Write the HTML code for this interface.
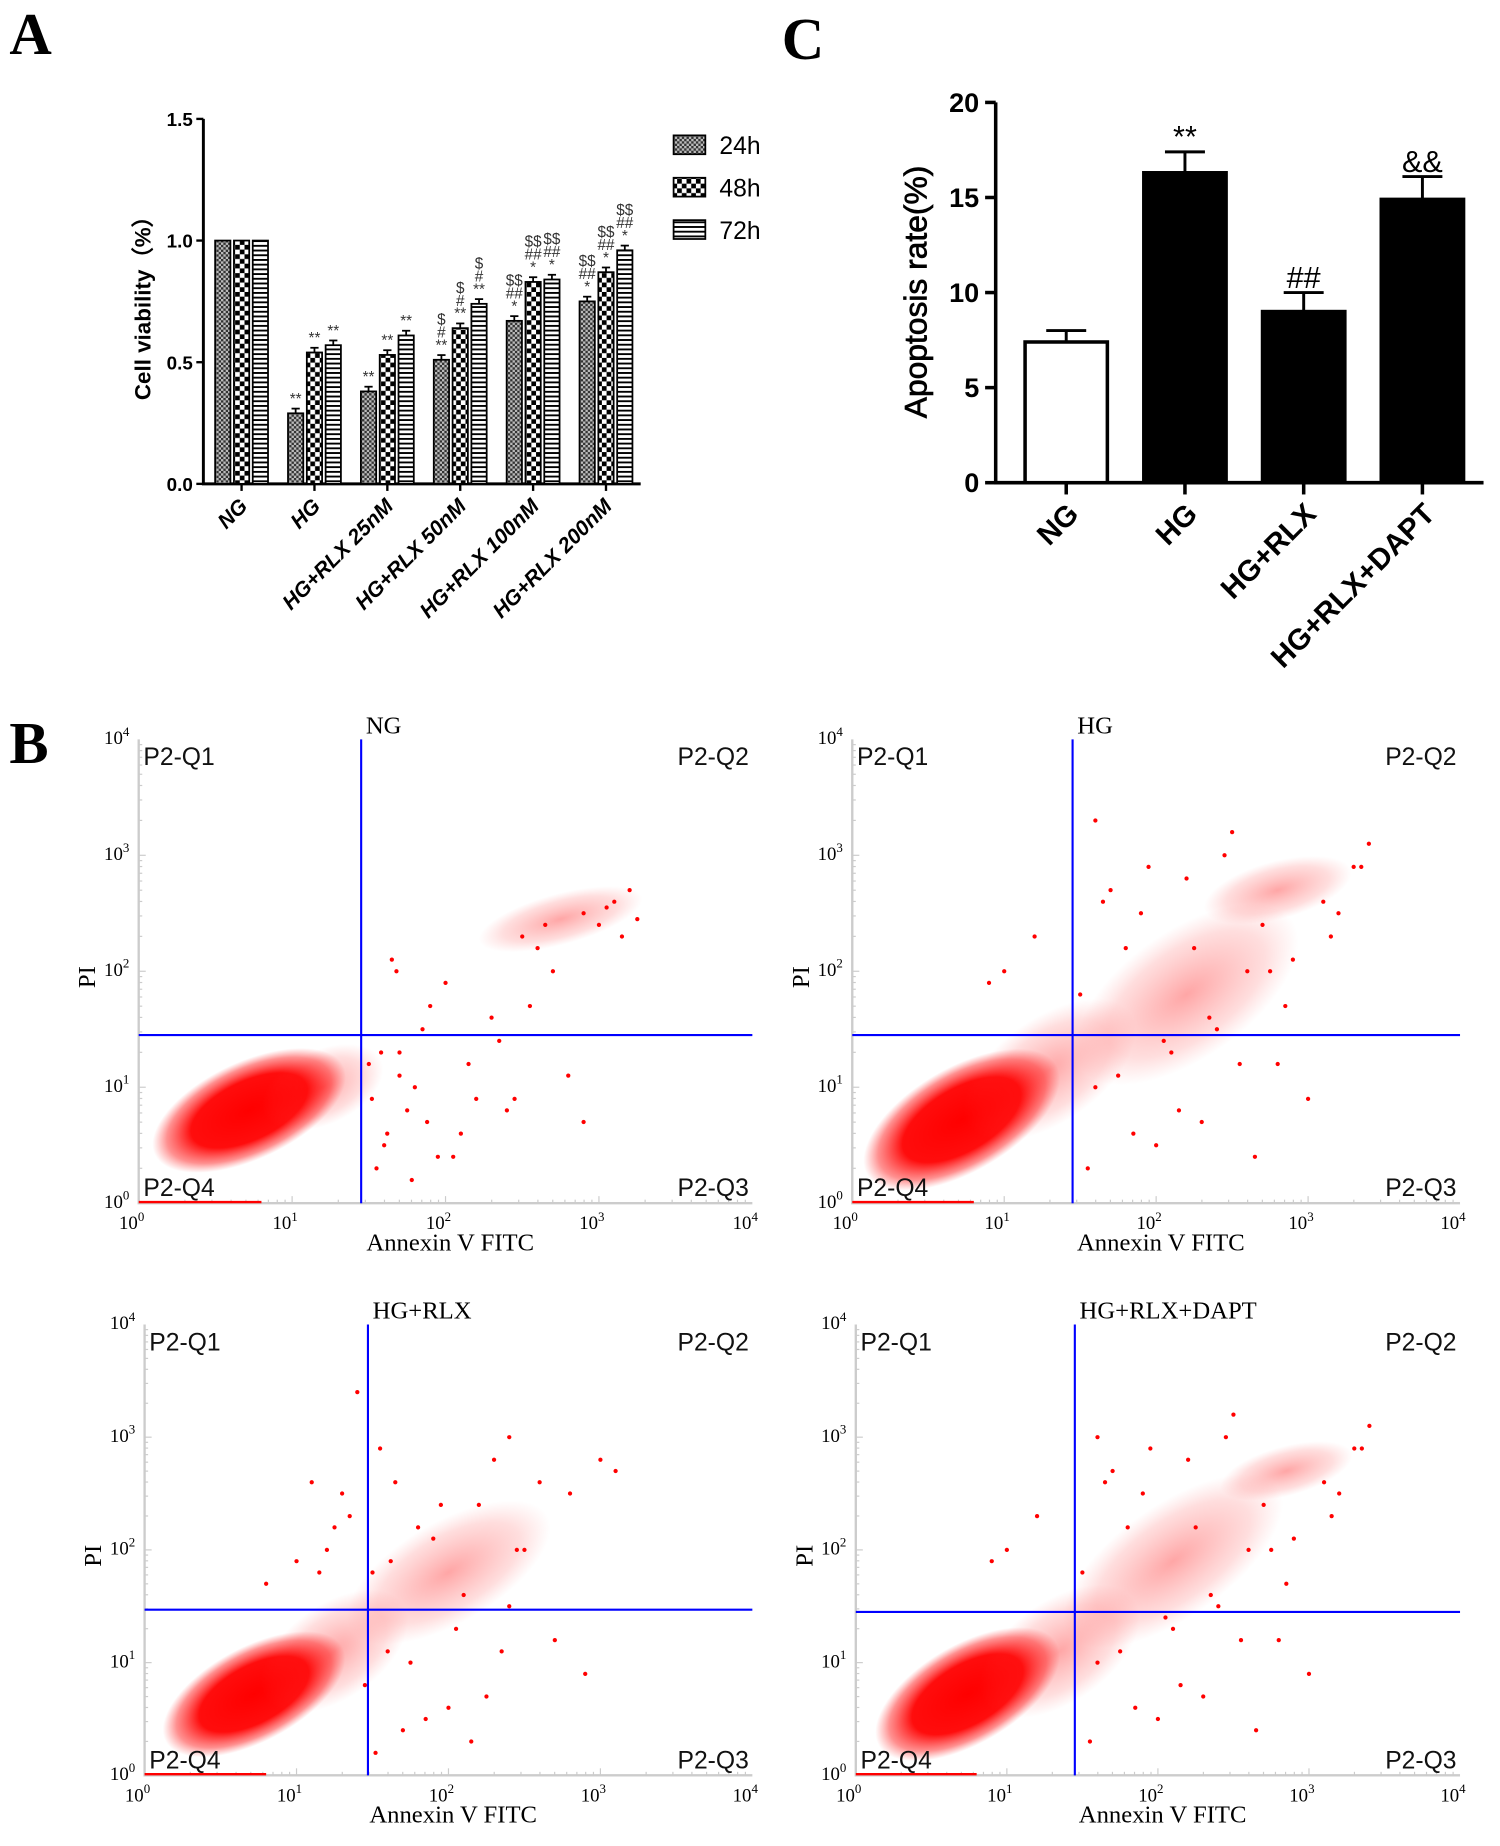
<!DOCTYPE html>
<html><head><meta charset="utf-8"><style>
html,body{margin:0;padding:0;background:#fff;}
svg{display:block;}
</style></head><body>
<svg id="fig" width="1500" height="1846" viewBox="0 0 1276 1568" preserveAspectRatio="none" xmlns="http://www.w3.org/2000/svg">
<defs>
<pattern id="p24" width="4" height="4" patternUnits="userSpaceOnUse"><rect width="4" height="4" fill="#bbb"/><rect width="2" height="2" fill="#333"/><rect x="2" y="2" width="2" height="2" fill="#333"/></pattern>
<pattern id="p48" width="8" height="8" patternUnits="userSpaceOnUse"><rect width="8" height="8" fill="#fff"/><rect width="4" height="4" fill="#000"/><rect x="4" y="4" width="4" height="4" fill="#000"/></pattern>
<pattern id="p72" width="4" height="4" patternUnits="userSpaceOnUse"><rect width="4" height="4" fill="#fff"/><rect width="4" height="1.6" fill="#000"/></pattern>
<radialGradient id="cg"><stop offset="0" stop-color="#f00" stop-opacity="1"/><stop offset="0.6" stop-color="#f00" stop-opacity="0.95"/><stop offset="0.85" stop-color="#f22" stop-opacity="0.5"/><stop offset="1" stop-color="#f44" stop-opacity="0"/></radialGradient>
<radialGradient id="cg2"><stop offset="0" stop-color="#f00" stop-opacity="0.35"/><stop offset="0.7" stop-color="#f22" stop-opacity="0.15"/><stop offset="1" stop-color="#f44" stop-opacity="0"/></radialGradient>
</defs>
<g id="A"></g>
<g id="C"></g>
<g id="B"></g>
</svg>
<script>
// ---- Panel A data ----
const catsA = ["NG","HG","HG+RLX 25nM","HG+RLX 50nM","HG+RLX 100nM","HG+RLX 200nM"];
const v24 = [1.0,0.29,0.38,0.51,0.67,0.75];
const v48 = [1.0,0.54,0.53,0.64,0.83,0.87];
const v72 = [1.0,0.57,0.61,0.74,0.84,0.96];
const ticksA = [0,0.5,1.0,1.5];
const sigA = [
 ["","",""],["**","**","**"],["**","**","**"],["$\n#\n**","$\n#\n**","$\n#\n**"],
 ["$$\n##\n*","$$\n##\n*","$$\n##\n*"],["$$\n##\n*","$$\n##\n*","$$\n##\n*"]];
// ---- Panel C data ----
const catsC = ["NG","HG","HG+RLX","HG+RLX+DAPT"];
const valsC = [7.4,16.3,9.0,14.9];
const errC = [0.6,1.1,1.0,1.2];
const sigC = ["","**","##","&&"];
const ticksC = [0,5,10,15,20];
// ---- Panel B data (log10 units) ----
const titlesB = ["NG","HG","HG+RLX","HG+RLX+DAPT"];
const gateX = [1.45,1.45,1.47,1.45];
const gateY = [1.45,1.45,1.47,1.45];
// clusters: [cx, cy, rx, ry, rot, kind]
const clustersB = [
 [[0.72,0.8,0.68,0.42,-25,1],[1.2,1.0,0.42,0.32,-25,2],[2.75,2.45,0.55,0.22,-15,2]],
 [[0.72,0.72,0.72,0.45,-30,1],[1.3,1.15,0.65,0.45,-35,2],[2.8,2.7,0.5,0.25,-15,2],[2.2,1.8,0.85,0.55,-35,2]],
 [[0.72,0.72,0.66,0.42,-28,1],[1.25,1.1,0.55,0.42,-35,2],[2.0,1.8,0.75,0.45,-30,2]],
 [[0.74,0.72,0.68,0.44,-30,1],[1.35,1.1,0.6,0.45,-35,2],[2.85,2.7,0.45,0.22,-15,2],[2.1,1.9,0.85,0.5,-35,2]]];
const ptsX = [
 [1.5,1.8,2.1,2.4,2.6,2.9,3.1,3.2,2.3,1.7,2.0,2.5,1.6,2.2,2.8,3.0,1.9,2.7,1.55,2.05,2.35,1.65,2.9,3.15,1.52,1.58,1.62,1.7,1.75,1.85,1.95,2.15,2.45,2.55,2.65,3.05,3.25,1.68,1.78,1.88],
 [1.6,2.0,2.4,2.8,3.1,3.3,1.8,2.2,2.6,3.0,1.5,1.9,2.3,2.7,3.4,1.7,2.1,2.5,2.9,3.2,1.2,1.0,0.9,1.6,1.55,1.65,1.75,1.85,1.95,2.05,2.15,2.25,2.35,2.45,2.55,2.65,2.75,2.85,3.15,3.35],
 [1.6,2.0,2.4,2.8,3.0,1.8,2.2,2.6,1.5,1.9,2.3,2.7,1.2,1.0,0.8,1.7,2.1,2.5,2.9,1.4,1.1,3.1,2.4,1.55,1.35,1.45,1.65,1.75,1.85,1.95,2.05,2.15,1.3,1.25,1.15,2.25,2.35,2.45,1.52,1.62],
 [1.6,2.0,2.4,2.8,3.1,3.3,1.8,2.2,2.6,3.0,1.5,1.9,2.3,2.7,3.4,1.7,2.1,2.5,2.9,3.2,1.2,1.0,0.9,1.6,1.55,1.65,1.75,1.85,1.95,2.05,2.15,2.25,2.35,2.45,2.55,2.65,2.75,2.85,3.15,3.35]];
const ptsY = [
 [1.2,1.0,0.6,0.8,2.2,2.5,2.6,2.7,1.6,1.3,1.9,2.3,0.5,0.9,1.1,2.4,1.7,2.0,0.3,0.4,1.4,2.1,0.7,2.3,0.9,1.3,0.6,1.1,0.8,1.5,0.4,1.2,0.9,1.7,2.4,2.55,2.45,2.0,0.2,0.7],
 [1.0,0.5,1.5,1.2,2.6,2.9,2.2,2.8,2.0,0.9,1.8,2.5,0.7,2.4,3.1,2.7,1.3,3.2,2.1,2.5,2.3,2.0,1.9,3.3,0.3,2.6,1.1,0.6,2.9,1.4,0.8,2.2,1.6,3.0,1.2,0.4,2.0,1.7,2.3,2.9],
 [1.1,0.6,1.5,2.5,2.8,2.2,2.4,2.6,1.8,2.1,2.8,1.2,2.0,1.9,1.7,0.4,1.6,2.0,0.9,3.4,2.6,2.7,3.0,2.9,2.3,0.8,2.6,1.0,0.5,2.4,1.3,0.3,2.5,2.2,1.8,0.7,1.1,2.0,0.2,1.9],
 [1.0,0.5,1.5,1.2,2.6,2.9,2.2,2.8,2.0,0.9,1.8,2.5,0.7,2.4,3.1,2.7,1.3,3.2,2.1,2.5,2.3,2.0,1.9,3.0,0.3,2.6,1.1,0.6,2.9,1.4,0.8,2.2,1.6,3.0,1.2,0.4,2.0,1.7,2.3,2.9]];

const NS="http://www.w3.org/2000/svg";
function mk(parent,tag,attrs,text){const e=document.createElementNS(NS,tag);for(const k in attrs)e.setAttribute(k,attrs[k]);if(text!==undefined)e.textContent=text;parent.appendChild(e);return e;}

// ================= Panel A =================
(function(){
 const g=document.getElementById('A');
 const L=mk(g,'text',{x:8,y:46,'font-family':'Liberation Serif, serif','font-weight':'bold','font-size':50});L.textContent='A';
 
 
 const x0=173,y0=411,yTop=101,vmax=1.5;
 const yS=v=>y0-(v/vmax)*(y0-yTop);
 const groupStart=i=>183+i*62, bw=13, step=16;
 const ax=mk(g,'path',{d:`M${x0} ${yTop} V${y0} H545`,stroke:'#000','stroke-width':2.5,fill:'none'});
 
 
 ticksA.forEach(t=>{
  mk(g,'line',{x1:x0-6,x2:x0,y1:yS(t),y2:yS(t),stroke:'#000','stroke-width':2});
  const tl=mk(g,'text',{x:x0-9,y:yS(t)+6,'text-anchor':'end','font-family':'Liberation Sans, sans-serif','font-weight':'bold','font-size':16},t.toFixed(1));
  
  
 });
 const yt=mk(g,'text',{transform:'translate(128,257) rotate(-90)','text-anchor':'middle','font-family':'Liberation Sans, sans-serif','font-weight':'bold','font-size':19},'Cell viability（%）');
 
 
 const series=[v24,v48,v72], fills=['url(#p24)','url(#p48)','url(#p72)'];
 catsA.forEach((c,i)=>{
  series.forEach((s,j)=>{
   const x=groupStart(i)+j*step, y=yS(s[i]);
   const b=mk(g,'rect',{x:x,y:y,width:bw,height:y0-y,fill:fills[j],stroke:'#000','stroke-width':1.5});
   
   
   if(i>0){mk(g,'line',{x1:x+bw/2,x2:x+bw/2,y1:y,y2:y-4,stroke:'#000','stroke-width':1.5});mk(g,'line',{x1:x+3,x2:x+bw-3,y1:y-4,y2:y-4,stroke:'#000','stroke-width':1.5});}
   const lines=sigA[i][j].split('\n').filter(Boolean);
   lines.forEach((ln,k)=>{
    const t=mk(g,'text',{x:x+bw/2,y:y-8-(lines.length-1-k)*11,'text-anchor':'middle','font-family':'Liberation Sans, sans-serif','font-size':13,fill:'#333'},ln);
    
    
   });
  });
  const cx=groupStart(i)+step+bw/2;
  mk(g,'line',{x1:cx,x2:cx,y1:y0,y2:y0+6,stroke:'#000','stroke-width':2});
  const xl=mk(g,'text',{transform:`translate(${cx+6},${y0+20}) rotate(-45)`,'text-anchor':'end','font-family':'Liberation Sans, sans-serif','font-weight':'bold','font-style':'italic','font-size':18},c);
  
  
 });
 ['24h','48h','72h'].forEach((n,j)=>{
  const lg=mk(g,'g',{});
  
  
  mk(lg,'rect',{x:573,y:115+j*36,width:27,height:16,fill:fills[j],stroke:'#000','stroke-width':1.5});
  mk(lg,'text',{x:612,y:131+j*36,'font-family':'Liberation Sans, sans-serif','font-size':21},n);
 });
})();

// ================= Panel C =================
(function(){
 const g=document.getElementById('C');
 const L=mk(g,'text',{x:665,y:50,'font-family':'Liberation Serif, serif','font-weight':'bold','font-size':50},'C');
 
 
 const x0=847,y0=410,yTop=87,vmax=20;
 const yS=v=>y0-(v/vmax)*(y0-yTop);
 const bx=i=>872+i*101, bw=70;
 const ax=mk(g,'path',{d:`M${x0} ${yTop} V${y0} H1262`,stroke:'#000','stroke-width':3,fill:'none'});
 
 
 ticksC.forEach(t=>{
  mk(g,'line',{x1:x0-9,x2:x0,y1:yS(t),y2:yS(t),stroke:'#000','stroke-width':3});
  const tl=mk(g,'text',{x:x0-14,y:yS(t)+8,'text-anchor':'end','font-family':'Liberation Sans, sans-serif','font-weight':'bold','font-size':23},t);
  
  
 });
 const yt=mk(g,'text',{transform:'translate(788,248) rotate(-90)','text-anchor':'middle','font-family':'Liberation Sans, sans-serif','font-size':27,stroke:'#000','stroke-width':0.6},'Apoptosis rate(%)');
 
 
 catsC.forEach((c,i)=>{
  const x=bx(i), y=yS(valsC[i]), ye=yS(valsC[i]+errC[i]);
  mk(g,'line',{x1:x+bw/2,x2:x+bw/2,y1:y,y2:ye,stroke:'#000','stroke-width':2.5});
  mk(g,'line',{x1:x+bw/2-17,x2:x+bw/2+17,y1:ye,y2:ye,stroke:'#000','stroke-width':2.5});
  const b=mk(g,'rect',{x:x,y:y,width:bw,height:y0-y,fill:i===0?'#fff':'#000',stroke:'#000','stroke-width':3});
  
  
  if(sigC[i]){const t=mk(g,'text',{x:x+bw/2,y:ye-4,'text-anchor':'middle','font-family':'Liberation Sans, sans-serif','font-size':26},sigC[i]);
   
   }
  mk(g,'line',{x1:x+bw/2,x2:x+bw/2,y1:y0,y2:y0+10,stroke:'#000','stroke-width':3});
  const xl=mk(g,'text',{transform:`translate(${x+bw/2+12},${y0+28}) rotate(-45)`,'text-anchor':'end','font-family':'Liberation Sans, sans-serif','font-weight':'bold','font-size':25},c);
  
  
 });
})();

// ================= Panel B =================
(function(){
 const g=document.getElementById('B');
 const L=mk(g,'text',{x:8,y:648,'font-family':'Liberation Serif, serif','font-weight':'bold','font-size':50},'B');
 
 
 const boxes=[[118,640,628,1022],[725,1242,628,1022],[123,640,1125,1508],[728,1242,1125,1508]];
 boxes.forEach((bx,p)=>{
  const [l,r,t,b]=bx;
  const xS=v=>l+v/4*(r-l), yS=v=>b-v/4*(b-t);
  const pg=mk(g,'g',{});
  
  
  mk(pg,'path',{d:`M${l} ${t} V${b} H${r}`,stroke:'#ccc','stroke-width':2,fill:'none'});
  for(let d=0;d<4;d++)for(let m=1;m<10;m++){const lv=d+Math.log10(m);
   mk(pg,'line',{x1:xS(lv),x2:xS(lv),y1:b,y2:b-(m===1?6:3),stroke:'#ccc','stroke-width':1});
   mk(pg,'line',{x1:l,x2:l+(m===1?6:3),y1:yS(lv),y2:yS(lv),stroke:'#ccc','stroke-width':1});}
  clustersB[p].forEach(c=>{
   const e=mk(pg,'ellipse',{cx:0,cy:0,rx:c[2]/4*(r-l),ry:c[3]/4*(b-t),fill:c[5]===1?'url(#cg)':'url(#cg2)',transform:`translate(${xS(c[0])},${yS(c[1])}) rotate(${c[4]})`});
   
   
  });
  ptsX[p].forEach((px,k)=>{
   const d=mk(pg,'circle',{cx:xS(px),cy:yS(ptsY[p][k]),r:1.8,fill:'#f00'});
   
   
  });
  mk(pg,'line',{x1:l,x2:l+(r-l)*0.2,y1:b-1,y2:b-1,stroke:'#f00','stroke-width':2});
  const vg=mk(pg,'line',{x1:xS(gateX[p]),x2:xS(gateX[p]),y1:t,y2:b,stroke:'#00f','stroke-width':1.8});
  
  
  const hg=mk(pg,'line',{x1:l,x2:r,y1:yS(gateY[p]),y2:yS(gateY[p]),stroke:'#00f','stroke-width':1.8});
  
  
  const tt=mk(pg,'text',{x:xS(gateX[p])+4,y:t-5,'font-family':'Liberation Serif, serif','font-size':21},titlesB[p]);
  
  
  const qs=[['P2-Q1',l+4,t+22,'start'],['P2-Q2',r-3,t+22,'end'],['P2-Q4',l+4,b-6,'start'],['P2-Q3',r-3,b-6,'end']];
  qs.forEach(q=>{const qt=mk(pg,'text',{x:q[1],y:q[2],'text-anchor':q[3],'font-family':'Liberation Sans, sans-serif','font-size':21,fill:'#111'},q[0]);
   
   });
  for(let d=0;d<=4;d++){
   const xt=mk(pg,'text',{x:xS(d)-6,y:b+22,'text-anchor':'middle','font-family':'Liberation Serif, serif','font-size':16},'');
   mk(xt,'tspan',{},'10');mk(xt,'tspan',{dy:-7,'font-size':11},String(d));
   
   
   const ytl=mk(pg,'text',{x:l-8,y:yS(d)+4,'text-anchor':'end','font-family':'Liberation Serif, serif','font-size':16},'');
   mk(ytl,'tspan',{},'10');mk(ytl,'tspan',{dy:-7,'font-size':11},String(d));
   
   
  }
  const xa=mk(pg,'text',{x:(l+r)/2+4,y:b+40,'text-anchor':'middle','font-family':'Liberation Serif, serif','font-size':21},'Annexin V FITC');
  
  
  const ya=mk(pg,'text',{transform:`translate(${l-37},${(t+b)/2+5}) rotate(-90)`,'text-anchor':'middle','font-family':'Liberation Serif, serif','font-size':21},'PI');
  
  
 });
})();
</script>
</body></html>
